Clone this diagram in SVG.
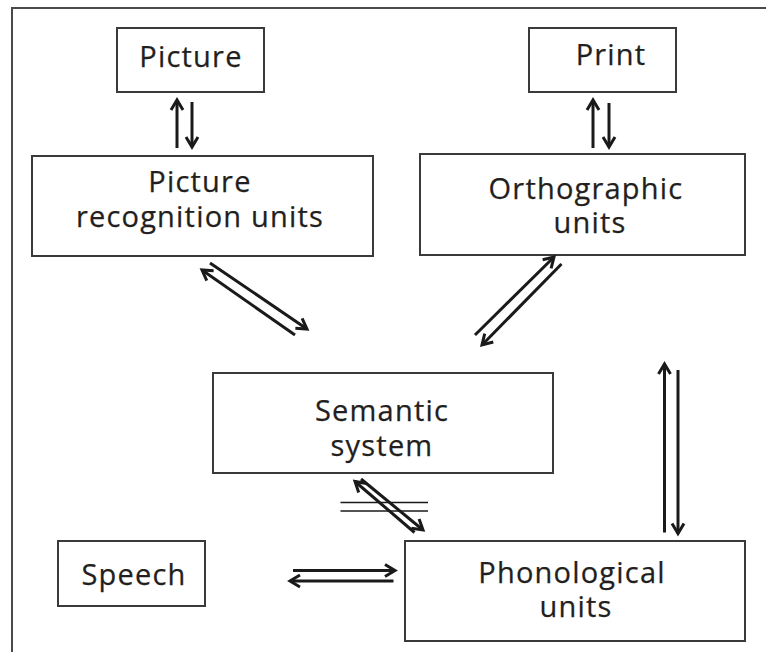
<svg xmlns="http://www.w3.org/2000/svg" width="766" height="652" viewBox="0 0 766 652">
<style>
.box{fill:#fff;stroke:#3a3a3a;stroke-width:2}
.lbl{font-family:"Open Sans","Noto Sans","Liberation Sans",sans-serif;font-size:29px;fill:#231f20;text-anchor:middle;letter-spacing:1.2px;stroke:#231f20;stroke-width:0.25}
.ar{stroke:#1a1a1a;stroke-width:3;fill:none;marker-end:url(#ah)}
.thin{stroke:#1a1a1a;stroke-width:1.6;fill:none}
</style>
<defs>
<marker id="ah" viewBox="-12 -8 16 16" refX="0" refY="0" markerWidth="16" markerHeight="16" markerUnits="userSpaceOnUse" orient="auto" overflow="visible">
<path d="M-10,-6 L0,0 L-10,6" fill="none" stroke="#1a1a1a" stroke-width="3"/>
</marker>
</defs>
<rect width="766" height="652" fill="#fff"/>
<path d="M12,652 V8 H766" fill="none" stroke="#4a4a4a" stroke-width="2"/>
<g id="picture"><rect class="box" x="117" y="28" width="147" height="64"/><text class="lbl" x="191" y="67">Picture</text></g>
<g id="print"><rect class="box" x="529" y="28" width="147" height="64"/><text class="lbl" x="611" y="65">Print</text></g>
<g id="picture-recognition-units"><rect class="box" x="32" y="156" width="341" height="100"/><text class="lbl" x="200" y="192">Picture</text><text class="lbl" x="200" y="227">recognition units</text></g>
<g id="orthographic-units"><rect class="box" x="420" y="154" width="325" height="101"/><text class="lbl" x="586" y="199">Orthographic</text><text class="lbl" x="590" y="233">units</text></g>
<g id="semantic-system"><rect class="box" x="213" y="373" width="340" height="100"/><text class="lbl" x="382" y="421">Semantic</text><text class="lbl" x="382" y="456">system</text></g>
<g id="speech"><rect class="box" x="58" y="541" width="147" height="65"/><text class="lbl" x="134" y="585">Speech</text></g>
<g id="phonological-units"><rect class="box" x="405" y="541" width="340" height="100"/><text class="lbl" x="572" y="583">Phonological</text><text class="lbl" x="576" y="617">units</text></g>
<g id="connectors">
<line class="ar" x1="177" y1="148" x2="177" y2="100"/>
<line class="ar" x1="192" y1="102" x2="192" y2="147"/>
<line class="ar" x1="593" y1="148" x2="593" y2="100"/>
<line class="ar" x1="609" y1="103" x2="609" y2="147"/>
<line class="ar" x1="210" y1="263" x2="307" y2="329"/>
<line class="ar" x1="295" y1="335" x2="202" y2="270"/>
<line class="ar" x1="475" y1="335" x2="554" y2="257"/>
<line class="ar" x1="561.5" y1="264" x2="482" y2="345"/>
<line class="ar" x1="414.5" y1="532.5" x2="355" y2="481.5"/>
<line class="ar" x1="361" y1="479" x2="423" y2="530"/>
<line class="thin" x1="340.5" y1="502.5" x2="428" y2="502.5"/>
<line class="thin" x1="340.5" y1="511" x2="428" y2="511"/>
<line class="ar" x1="664.5" y1="532.5" x2="664.5" y2="364"/>
<line class="ar" x1="678" y1="370" x2="678" y2="533.5"/>
<line class="ar" x1="293" y1="570.5" x2="395" y2="570.5"/>
<line class="ar" x1="393.5" y1="581" x2="290" y2="581"/>
</g>
</svg>
